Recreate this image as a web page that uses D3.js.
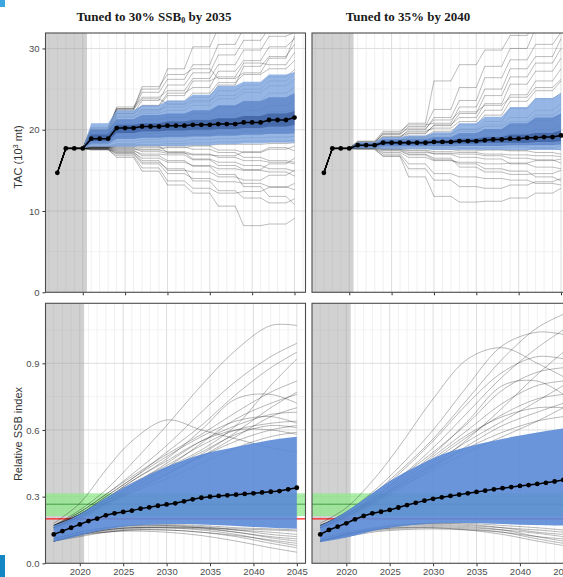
<!DOCTYPE html>
<html>
<head>
<meta charset="utf-8">
<script src="https://cdn.jsdelivr.net/npm/d3@7"></script>
<style>
  html, body { margin: 0; padding: 0; background: #fff; }
  svg { display: block; font-family: "Liberation Sans", Arial, sans-serif; }
</style>
</head>
<body>
<svg id="chart" width="563" height="577"></svg>
<script>
// ── Data ─────────────────────────────────────────────────────────────
const YEARS = d3.range(2017, 2046);
const TAC_HISTORY = [14.7, 17.7, 17.7, 17.7];            // 2017–2020, shared by every run
const TAC_BLOCK_STARTS = [2021, 2024, 2027, 2030, 2033, 2036, 2039, 2042, 2045];

// TAC medians, one per year 2017–2045
const tacLeftMedian = [14.7, 17.7, 17.7, 17.7, 18.9, 18.9, 18.9, 20.2, 20.2, 20.2,
  20.4, 20.4, 20.4, 20.5, 20.5, 20.5, 20.6, 20.6, 20.6, 20.7, 20.7, 20.7,
  20.9, 20.9, 20.9, 21.2, 21.2, 21.2, 21.5];
const tacRightMedian = [14.7, 17.7, 17.7, 17.7, 18.1, 18.1, 18.1, 18.4, 18.4, 18.4,
  18.4, 18.4, 18.4, 18.5, 18.5, 18.5, 18.6, 18.6, 18.6, 18.7, 18.8, 18.8,
  18.9, 18.9, 19.0, 19.0, 19.1, 19.1, 19.3];

// quantile bands per TAC block: [outer, middle, inner]
const tacLeftBandLo = [
  [17.9, 17.9, 18.0, 18.0, 18.1, 18.2, 18.3, 18.4, 18.4],
  [18.3, 18.9, 19.0, 19.1, 19.2, 19.3, 19.4, 19.5, 19.6],
  [18.6, 19.6, 19.8, 19.9, 20.0, 20.1, 20.2, 20.4, 20.6]];
const tacLeftBandHi = [
  [20.8, 22.4, 23.0, 23.6, 24.3, 25.4, 25.9, 26.8, 27.1],
  [20.0, 21.3, 21.8, 22.0, 22.4, 23.0, 23.5, 24.0, 24.5],
  [19.4, 20.6, 20.8, 21.0, 21.2, 21.4, 21.7, 22.0, 22.3]];
const tacRightBandLo = [
  [17.7, 17.6, 17.6, 17.5, 17.5, 17.5, 17.5, 17.5, 17.5],
  [17.9, 18.0, 18.0, 18.0, 18.0, 18.0, 18.1, 18.1, 18.2],
  [18.0, 18.2, 18.2, 18.3, 18.3, 18.4, 18.4, 18.5, 18.6]];
const tacRightBandHi = [
  [18.5, 19.1, 19.3, 19.7, 20.8, 21.6, 22.8, 23.9, 24.5],
  [18.3, 18.8, 18.9, 19.1, 19.6, 20.1, 20.8, 21.5, 22.0],
  [18.2, 18.6, 18.6, 18.7, 18.9, 19.1, 19.4, 19.6, 19.9]];

// individual TAC runs, one value per block
const tacLeftRuns = [
  [20.2, 22.6, 25.0, 27.5, 30.2, 32.5, 34, 35, 35],
  [20.0, 22.4, 24.6, 26.2, 28.0, 30.5, 32.5, 34, 34],
  [19.8, 22.0, 23.6, 25.5, 27.0, 29.2, 31.0, 32.5, 33],
  [20.1, 22.8, 24.0, 24.8, 26.3, 28.0, 29.8, 31.5, 32],
  [19.6, 21.8, 23.0, 24.5, 25.2, 27.2, 28.5, 30.2, 31.2],
  [20.3, 22.5, 23.8, 23.2, 24.0, 25.5, 27.8, 29.0, 30.5],
  [19.9, 22.2, 22.9, 24.2, 26.0, 26.5, 28.2, 28.0, 29.5],
  [20.0, 22.6, 25.3, 26.8, 27.5, 26.3, 27.0, 28.8, 31.5],
  [19.5, 21.5, 22.4, 23.5, 24.5, 25.8, 26.8, 27.5, 28.5],
  [19.8, 22.0, 22.5, 22.8, 23.4, 24.8, 25.5, 26.5, 27.4],
  [19.2, 20.8, 21.2, 21.5, 22.0, 22.8, 23.5, 24.5, 25.2],
  [19.0, 20.4, 20.6, 21.0, 21.3, 21.8, 22.4, 23.0, 23.6],
  [18.8, 20.2, 20.5, 20.8, 20.8, 21.2, 21.6, 22.2, 22.5],
  [18.9, 20.0, 20.3, 20.3, 20.6, 20.8, 21.0, 21.4, 21.8],
  [18.6, 19.6, 19.8, 20.0, 20.2, 20.4, 20.6, 20.8, 21.0],
  [18.5, 19.2, 19.5, 19.7, 19.9, 20.0, 20.2, 20.4, 20.5],
  [18.3, 18.9, 19.1, 19.3, 19.4, 19.6, 19.8, 20.0, 20.0],
  [18.2, 18.6, 18.8, 19.0, 19.2, 19.3, 19.4, 19.6, 19.5],
  [18.0, 18.3, 18.5, 18.6, 18.8, 18.9, 19.0, 19.1, 19.2],
  [17.9, 18.2, 18.2, 18.3, 18.4, 18.5, 18.6, 18.6, 18.7],
  [19.4, 21.2, 22.0, 22.4, 23.0, 23.8, 24.6, 25.4, 26.2],
  [19.6, 21.6, 22.2, 23.1, 23.6, 24.2, 25.0, 26.0, 27.0],
  [17.8, 18.0, 18.0, 18.1, 18.1, 18.2, 18.2, 18.3, 18.4],
  [17.7, 17.6, 17.5, 17.3, 17.0, 16.6, 16.2, 16.0, 15.8],
  [17.6, 17.2, 16.5, 16.0, 15.6, 15.2, 15.0, 14.8, 14.3],
  [17.6, 17.0, 15.8, 14.6, 14.0, 13.6, 13.4, 13.0, 12.6],
  [17.5, 16.8, 15.3, 13.7, 12.8, 12.2, 12.4, 12.9, 13.4],
  [17.6, 16.6, 14.9, 13.2, 12.2, 10.6, 8.2, 8.4, 9.1],
  [17.8, 17.5, 16.8, 16.2, 15.5, 14.5, 13.0, 11.8, 10.8],
  [17.7, 17.4, 17.0, 16.9, 16.3, 15.6, 15.1, 15.8, 16.5],
  [17.9, 17.8, 17.6, 17.8, 18.0, 17.5, 17.2, 17.6, 18.0],
  [17.8, 17.7, 17.3, 17.1, 16.9, 16.8, 17.3, 17.8, 17.4],
  [17.7, 17.3, 16.2, 15.0, 14.8, 14.2, 13.8, 14.4, 15.0],
  [17.6, 17.1, 16.0, 15.2, 13.7, 12.5, 11.6, 11.0, 11.5],
  [17.9, 18.1, 18.0, 17.2, 16.4, 16.0, 15.6, 15.2, 14.9],
  [17.8, 17.9, 17.8, 17.9, 17.6, 17.2, 16.6, 16.2, 16.0]];
const tacRightRuns = [
  [18.4, 19.6, 20.8, 26.0, 28.0, 29.8, 31.6, 33, 33],
  [18.5, 19.4, 20.4, 22.5, 25.2, 27.8, 30.0, 32.5, 33],
  [18.3, 19.0, 20.0, 21.5, 23.6, 26.4, 28.6, 30.5, 32],
  [18.6, 19.8, 20.6, 20.8, 22.8, 25.0, 27.5, 29.0, 31.2],
  [18.2, 18.8, 19.5, 20.6, 21.5, 23.2, 25.6, 27.2, 28.8],
  [18.4, 19.2, 19.8, 20.2, 21.0, 22.4, 24.3, 26.0, 27.5],
  [18.1, 18.7, 19.2, 19.8, 20.6, 21.8, 23.5, 24.8, 26.0],
  [18.0, 18.6, 19.0, 19.4, 20.1, 21.0, 22.6, 23.8, 24.5],
  [18.3, 19.1, 19.6, 20.5, 22.0, 24.2, 26.5, 28.2, 30.0],
  [18.5, 19.5, 20.2, 21.2, 22.2, 23.0, 24.0, 25.2, 26.2],
  [18.2, 18.5, 18.7, 18.9, 19.3, 19.8, 20.5, 21.2, 22.0],
  [18.1, 18.4, 18.5, 18.7, 18.9, 19.2, 19.6, 20.0, 20.5],
  [18.0, 18.3, 18.4, 18.5, 18.6, 18.8, 19.0, 19.3, 19.5],
  [17.9, 18.1, 18.2, 18.3, 18.3, 18.4, 18.5, 18.6, 18.8],
  [17.9, 18.0, 18.0, 18.1, 18.1, 18.1, 18.2, 18.2, 18.2],
  [18.2, 18.6, 19.0, 19.2, 19.8, 20.6, 21.5, 22.4, 23.2],
  [18.3, 18.8, 19.1, 19.5, 20.0, 20.4, 21.0, 21.8, 22.5],
  [18.0, 18.2, 18.3, 18.4, 18.5, 18.9, 19.3, 19.6, 19.9],
  [17.8, 17.7, 17.5, 17.3, 17.2, 17.0, 16.9, 16.8, 16.7],
  [17.7, 17.2, 16.6, 16.2, 16.0, 15.8, 15.9, 16.2, 16.4],
  [17.6, 16.8, 15.2, 13.8, 13.0, 12.8, 13.2, 13.6, 14.0],
  [17.6, 16.7, 14.2, 11.8, 11.1, 11.2, 11.6, 12.2, 12.8],
  [17.7, 17.0, 15.8, 14.6, 14.2, 14.0, 13.8, 13.4, 13.2],
  [17.8, 17.5, 17.0, 16.5, 15.4, 14.8, 14.5, 14.6, 15.0],
  [17.8, 17.6, 17.4, 17.0, 16.6, 16.4, 15.8, 15.4, 15.2],
  [17.9, 17.8, 17.7, 17.6, 17.4, 17.5, 17.4, 17.2, 17.0],
  [17.7, 17.4, 16.9, 16.3, 15.8, 15.2, 14.9, 14.2, 13.7],
  [17.8, 17.6, 17.2, 17.1, 17.0, 16.8, 16.5, 16.3, 15.9],
  [17.9, 17.9, 17.9, 17.8, 17.7, 17.8, 17.9, 17.7, 17.5],
  [18.0, 18.0, 18.1, 18.0, 17.8, 17.6, 17.5, 17.8, 18.0]];

// SSB medians, one per year 2017–2045
const ssbLeftMedian = [0.130, 0.145, 0.160, 0.175, 0.190, 0.201, 0.216, 0.225, 0.231,
  0.237, 0.246, 0.252, 0.259, 0.265, 0.270, 0.279, 0.288, 0.295, 0.300, 0.303,
  0.306, 0.309, 0.312, 0.315, 0.319, 0.322, 0.325, 0.333, 0.340];
const ssbRightMedian = [0.130, 0.150, 0.165, 0.180, 0.198, 0.213, 0.225, 0.232, 0.240,
  0.251, 0.262, 0.272, 0.282, 0.290, 0.297, 0.303, 0.309, 0.315, 0.321, 0.327,
  0.333, 0.338, 0.343, 0.348, 0.352, 0.357, 0.362, 0.368, 0.375];

const SSB_BAND_YEARS = [2017, 2019, 2021, 2023, 2025, 2028, 2031, 2034, 2037, 2040, 2043, 2045];
const ssbLeftBandHi = [0.17, 0.20, 0.245, 0.295, 0.34, 0.40, 0.45, 0.49, 0.515, 0.54, 0.56, 0.57];
const ssbLeftBandLo = [0.097, 0.115, 0.135, 0.152, 0.165, 0.174, 0.177, 0.175, 0.17, 0.163, 0.158, 0.156];
const ssbRightBandHi = [0.17, 0.21, 0.26, 0.315, 0.37, 0.435, 0.49, 0.525, 0.552, 0.575, 0.595, 0.607];
const ssbRightBandLo = [0.095, 0.108, 0.125, 0.145, 0.16, 0.174, 0.18, 0.181, 0.178, 0.174, 0.171, 0.17];

const SSB_RUN_YEARS = [2017, 2020, 2023, 2026, 2030, 2034, 2038, 2042, 2045];
const ssbLeftRuns = [
  [0.18, 0.27, 0.42, 0.55, 0.645, 0.60, 0.56, 0.52, 0.50],
  [0.17, 0.24, 0.33, 0.45, 0.62, 0.80, 0.96, 1.07, 1.07],
  [0.17, 0.23, 0.31, 0.40, 0.53, 0.68, 0.82, 0.93, 0.99],
  [0.16, 0.22, 0.30, 0.38, 0.50, 0.62, 0.76, 0.88, 0.95],
  [0.17, 0.23, 0.31, 0.39, 0.49, 0.58, 0.68, 0.77, 0.82],
  [0.16, 0.22, 0.29, 0.37, 0.47, 0.60, 0.74, 0.76, 0.72],
  [0.17, 0.22, 0.30, 0.38, 0.48, 0.57, 0.64, 0.66, 0.63],
  [0.16, 0.21, 0.28, 0.35, 0.45, 0.55, 0.62, 0.67, 0.68],
  [0.17, 0.22, 0.29, 0.36, 0.44, 0.53, 0.60, 0.63, 0.64],
  [0.16, 0.21, 0.28, 0.34, 0.42, 0.50, 0.58, 0.62, 0.61],
  [0.16, 0.21, 0.27, 0.34, 0.43, 0.54, 0.65, 0.72, 0.76],
  [0.17, 0.22, 0.29, 0.37, 0.46, 0.55, 0.60, 0.60, 0.58],
  [0.16, 0.20, 0.27, 0.33, 0.41, 0.48, 0.55, 0.60, 0.62],
  [0.16, 0.21, 0.27, 0.33, 0.40, 0.48, 0.57, 0.66, 0.70],
  [0.15, 0.20, 0.26, 0.32, 0.40, 0.49, 0.59, 0.70, 0.77],
  [0.17, 0.22, 0.28, 0.35, 0.43, 0.51, 0.62, 0.80, 0.92],
  [0.16, 0.21, 0.27, 0.32, 0.38, 0.45, 0.52, 0.57, 0.59],
  [0.11, 0.14, 0.16, 0.17, 0.17, 0.16, 0.14, 0.12, 0.11],
  [0.10, 0.13, 0.15, 0.16, 0.16, 0.15, 0.13, 0.10, 0.08],
  [0.10, 0.13, 0.15, 0.16, 0.165, 0.16, 0.15, 0.14, 0.13],
  [0.10, 0.13, 0.14, 0.15, 0.15, 0.14, 0.12, 0.09, 0.07],
  [0.11, 0.14, 0.16, 0.17, 0.175, 0.17, 0.16, 0.155, 0.15],
  [0.10, 0.125, 0.14, 0.145, 0.14, 0.125, 0.10, 0.07, 0.05],
  [0.10, 0.13, 0.15, 0.16, 0.16, 0.155, 0.14, 0.115, 0.10],
  [0.11, 0.14, 0.155, 0.165, 0.17, 0.165, 0.15, 0.13, 0.12],
  [0.10, 0.12, 0.14, 0.15, 0.15, 0.14, 0.125, 0.105, 0.09],
  [0.10, 0.13, 0.145, 0.155, 0.16, 0.16, 0.155, 0.15, 0.145]];
const ssbRightRuns = [
  [0.18, 0.25, 0.37, 0.52, 0.74, 0.92, 0.97, 0.90, 0.84],
  [0.17, 0.23, 0.32, 0.43, 0.60, 0.80, 0.98, 1.04, 1.03],
  [0.17, 0.23, 0.31, 0.41, 0.56, 0.74, 0.92, 1.06, 1.12],
  [0.17, 0.22, 0.30, 0.40, 0.55, 0.72, 0.86, 0.93, 0.92],
  [0.16, 0.22, 0.29, 0.38, 0.52, 0.68, 0.84, 0.97, 1.05],
  [0.17, 0.22, 0.29, 0.38, 0.50, 0.63, 0.78, 0.86, 0.88],
  [0.16, 0.21, 0.28, 0.36, 0.48, 0.60, 0.72, 0.80, 0.82],
  [0.17, 0.22, 0.29, 0.37, 0.49, 0.64, 0.80, 0.82, 0.76],
  [0.16, 0.21, 0.27, 0.35, 0.46, 0.57, 0.67, 0.74, 0.76],
  [0.16, 0.21, 0.28, 0.36, 0.47, 0.58, 0.66, 0.70, 0.70],
  [0.17, 0.22, 0.28, 0.35, 0.45, 0.55, 0.64, 0.73, 0.80],
  [0.16, 0.20, 0.26, 0.33, 0.43, 0.53, 0.62, 0.68, 0.72],
  [0.16, 0.21, 0.27, 0.34, 0.44, 0.56, 0.70, 0.85, 0.95],
  [0.17, 0.22, 0.28, 0.35, 0.44, 0.52, 0.59, 0.64, 0.66],
  [0.16, 0.21, 0.27, 0.34, 0.42, 0.50, 0.57, 0.64, 0.70],
  [0.10, 0.13, 0.155, 0.17, 0.18, 0.175, 0.16, 0.14, 0.13],
  [0.10, 0.13, 0.15, 0.165, 0.17, 0.165, 0.15, 0.12, 0.10],
  [0.10, 0.125, 0.145, 0.155, 0.16, 0.155, 0.14, 0.11, 0.09],
  [0.11, 0.14, 0.16, 0.175, 0.18, 0.18, 0.17, 0.16, 0.15],
  [0.10, 0.13, 0.15, 0.16, 0.165, 0.16, 0.15, 0.135, 0.12],
  [0.10, 0.12, 0.14, 0.15, 0.155, 0.15, 0.14, 0.12, 0.11],
  [0.11, 0.135, 0.155, 0.17, 0.175, 0.17, 0.16, 0.15, 0.14],
  [0.10, 0.13, 0.15, 0.16, 0.16, 0.15, 0.13, 0.10, 0.08]];

// reference levels on the SSB panels
const SSB_LIMIT = 0.2;
const SSB_TARGET = 0.266;
const SSB_TARGET_RANGE = [0.213, 0.315];

const X_TICKS = [2020, 2025, 2030, 2035, 2040, 2045];
const TAC_TICKS = [0, 10, 20, 30];
const TAC_MINOR = [5, 15, 25];
const SSB_TICKS = [0, 0.3, 0.6, 0.9];
const SSB_MINOR = [0.15, 0.45, 0.75, 1.05];

// ── Layout ───────────────────────────────────────────────────────────
const svg = d3.select('#chart');
const COL_LEFT = [45.5, 312];
const PANEL_W = 260;
const ROW_Y = [[33, 292.3], [303.3, 563.3]];

svg.append('rect').attr('width', 563).attr('height', 577).attr('fill', '#fff');

// ── Helpers ──────────────────────────────────────────────────────────
function tacSeries(blocks) {
  return YEARS.map((yr, i) => {
    if (yr <= 2020) return TAC_HISTORY[i];
    return blocks[d3.bisectRight(TAC_BLOCK_STARTS, yr) - 1];
  });
}

function drawPanel({ col, row, xDomain, yDomain, yMajor, yMinor, yLabels, xLabels, yFormat }) {
  const left = COL_LEFT[col];
  const [top, bottom] = ROW_Y[row];
  const x = d3.scaleLinear().domain(xDomain).range([left, left + PANEL_W]);
  const y = d3.scaleLinear().domain(yDomain).range([bottom, top]);

  const clipId = `clip-${col}-${row}`;
  svg.append('clipPath').attr('id', clipId).append('rect')
    .attr('x', left).attr('y', top).attr('width', PANEL_W).attr('height', bottom - top);
  const g = svg.append('g').attr('clip-path', `url(#${clipId})`);

  // grid
  const yearLines = d3.range(Math.ceil(xDomain[0]), Math.floor(xDomain[1]) + 1);
  g.append('g').selectAll('line').data(yearLines).join('line')
    .attr('x1', d => x(d)).attr('x2', d => x(d))
    .attr('y1', top).attr('y2', bottom)
    .attr('stroke', d => d % 5 === 0 ? '#d9d9d9' : '#e6e6e6')
    .attr('stroke-width', d => d % 5 === 0 ? 0.9 : 0.6);
  g.append('g').selectAll('line').data(yMinor).join('line')
    .attr('x1', left).attr('x2', left + PANEL_W)
    .attr('y1', d => y(d)).attr('y2', d => y(d))
    .attr('stroke', '#ececec').attr('stroke-width', 0.6);
  g.append('g').selectAll('line').data(yMajor).join('line')
    .attr('x1', left).attr('x2', left + PANEL_W)
    .attr('y1', d => y(d)).attr('y2', d => y(d))
    .attr('stroke', '#d9d9d9').attr('stroke-width', 0.9);

  // historical period shading
  g.append('rect')
    .attr('x', left).attr('y', top)
    .attr('width', x(2020.5) - left).attr('height', bottom - top)
    .attr('fill', '#9a9a9a').attr('opacity', 0.45);

  // axes
  const xAxis = svg.append('g').attr('transform', `translate(0,${bottom})`)
    .call(d3.axisBottom(x).tickValues(X_TICKS).tickSize(3).tickPadding(2)
      .tickFormat(xLabels ? d3.format('d') : ''));
  xAxis.select('.domain').remove();
  xAxis.selectAll('line').attr('stroke', '#333');
  xAxis.selectAll('text').attr('fill', '#4d4d4d').attr('font-size', 9.5)
    .attr('font-family', '"Liberation Sans", Arial, sans-serif');

  if (yLabels) {
    const yAxis = svg.append('g').attr('transform', `translate(${left},0)`)
      .call(d3.axisLeft(y).tickValues(yMajor).tickSize(3).tickPadding(3).tickFormat(yFormat));
    yAxis.select('.domain').remove();
    yAxis.selectAll('line').attr('stroke', '#333');
    yAxis.selectAll('text').attr('fill', '#4d4d4d').attr('font-size', 9.5)
      .attr('font-family', '"Liberation Sans", Arial, sans-serif');
  }

  return { x, y, g, left, top, bottom };
}

function drawBorder(p) {
  svg.append('rect')
    .attr('x', p.left).attr('y', p.top)
    .attr('width', PANEL_W).attr('height', p.bottom - p.top)
    .attr('fill', 'none').attr('stroke', '#4d4d4d').attr('stroke-width', 1.1);
}

function drawMedian(p, values) {
  const pts = YEARS.map((yr, i) => [yr, values[i]]);
  p.g.append('path').datum(pts)
    .attr('d', d3.line().x(d => p.x(d[0])).y(d => p.y(d[1])))
    .attr('fill', 'none').attr('stroke', '#000').attr('stroke-width', 1.5);
  p.g.append('g').selectAll('circle').data(pts).join('circle')
    .attr('cx', d => p.x(d[0])).attr('cy', d => p.y(d[1]))
    .attr('r', 2.4).attr('fill', '#000');
}

// ── TAC panels ───────────────────────────────────────────────────────
const BAND_FILLS = [['#79a1df', 0.78], ['#4d78c0', 0.62], ['#2a4c8c', 0.55]];

function drawTacPanel(col, runs, bandLo, bandHi, median) {
  const p = drawPanel({
    col, row: 0, xDomain: [2015.6, 2046.3], yDomain: [0, 31.9],
    yMajor: TAC_TICKS, yMinor: TAC_MINOR, yLabels: col === 0, xLabels: false,
    yFormat: d3.format('d')
  });
  const line = d3.line().x(d => p.x(d[0])).y(d => p.y(d[1]));

  p.g.append('g').selectAll('path').data(runs).join('path')
    .attr('d', r => line(tacSeries(r).map((v, i) => [YEARS[i], v])))
    .attr('fill', 'none').attr('stroke', '#000')
    .attr('stroke-opacity', 0.38).attr('stroke-width', 0.7);

  const bandYears = YEARS.filter(yr => yr >= 2020);
  const area = d3.area().x(d => p.x(d.yr)).y0(d => p.y(d.lo)).y1(d => p.y(d.hi));
  bandLo.forEach((lo, k) => {
    const loS = tacSeries(lo), hiS = tacSeries(bandHi[k]);
    const pts = bandYears.map(yr => {
      const i = YEARS.indexOf(yr);
      return { yr, lo: loS[i], hi: hiS[i] };
    });
    p.g.append('path').datum(pts).attr('d', area)
      .attr('fill', BAND_FILLS[k][0]).attr('opacity', BAND_FILLS[k][1]);
  });

  drawMedian(p, median);
  drawBorder(p);
}

// ── SSB panels ───────────────────────────────────────────────────────
function drawSsbPanel(col, runs, bandLo, bandHi, median) {
  const p = drawPanel({
    col, row: 1, xDomain: [2016.05, 2046.0], yDomain: [0, 1.17],
    yMajor: SSB_TICKS, yMinor: SSB_MINOR, yLabels: col === 0, xLabels: true,
    yFormat: d3.format('.1f')
  });
  const x0 = p.left, x1 = p.left + PANEL_W;

  p.g.append('rect')
    .attr('x', x0).attr('width', PANEL_W)
    .attr('y', p.y(SSB_TARGET_RANGE[1]))
    .attr('height', p.y(SSB_TARGET_RANGE[0]) - p.y(SSB_TARGET_RANGE[1]))
    .attr('fill', '#8fe88a').attr('opacity', 0.75);
  p.g.append('line')
    .attr('x1', x0).attr('x2', x1)
    .attr('y1', p.y(SSB_TARGET)).attr('y2', p.y(SSB_TARGET))
    .attr('stroke', '#45a045').attr('stroke-width', 1);
  p.g.append('line')
    .attr('x1', x0).attr('x2', x1)
    .attr('y1', p.y(SSB_LIMIT)).attr('y2', p.y(SSB_LIMIT))
    .attr('stroke', '#ff1a1a').attr('stroke-width', 1.3);

  const curve = d3.line().curve(d3.curveCatmullRom.alpha(0.5))
    .x(d => p.x(d[0])).y(d => p.y(d[1]));
  p.g.append('g').selectAll('path').data(runs).join('path')
    .attr('d', r => curve(r.map((v, i) => [SSB_RUN_YEARS[i], v])))
    .attr('fill', 'none').attr('stroke', '#000')
    .attr('stroke-opacity', 0.4).attr('stroke-width', 0.7);

  const pts = SSB_BAND_YEARS.map((yr, i) => ({ yr, lo: bandLo[i], hi: bandHi[i] }));
  p.g.append('path').datum(pts)
    .attr('d', d3.area().curve(d3.curveMonotoneX)
      .x(d => p.x(d.yr)).y0(d => p.y(d.lo)).y1(d => p.y(d.hi)))
    .attr('fill', '#5a8ad6').attr('opacity', 0.9);

  drawMedian(p, median);
  drawBorder(p);
}

drawTacPanel(0, tacLeftRuns, tacLeftBandLo, tacLeftBandHi, tacLeftMedian);
drawTacPanel(1, tacRightRuns, tacRightBandLo, tacRightBandHi, tacRightMedian);
drawSsbPanel(0, ssbLeftRuns, ssbLeftBandLo, ssbLeftBandHi, ssbLeftMedian);
drawSsbPanel(1, ssbRightRuns, ssbRightBandLo, ssbRightBandHi, ssbRightMedian);

// ── Titles and axis labels ───────────────────────────────────────────
const t1 = svg.append('text').attr('x', 154).attr('y', 21).attr('text-anchor', 'middle')
  .attr('font-family', '"Liberation Serif", "Times New Roman", serif')
  .attr('font-weight', 'bold').attr('font-size', 13).attr('fill', '#1a1a1a');
t1.append('tspan').text('Tuned to 30% SSB');
t1.append('tspan').attr('dy', 2).attr('font-size', 8).text('0');
t1.append('tspan').attr('dy', -2).text(' by 2035');

svg.append('text').attr('x', 408).attr('y', 21).attr('text-anchor', 'middle')
  .attr('font-family', '"Liberation Serif", "Times New Roman", serif')
  .attr('font-weight', 'bold').attr('font-size', 13).attr('fill', '#1a1a1a')
  .text('Tuned to 35% by 2040');

const tacLabel = svg.append('text')
  .attr('transform', 'translate(22,157) rotate(-90)').attr('text-anchor', 'middle')
  .attr('font-size', 11).attr('fill', '#333');
tacLabel.append('tspan').text('TAC (10');
tacLabel.append('tspan').attr('dy', -4).attr('font-size', 7.5).text('3');
tacLabel.append('tspan').attr('dy', 4).text(' mt)');

svg.append('text')
  .attr('transform', 'translate(22,434) rotate(-90)').attr('text-anchor', 'middle')
  .attr('font-size', 11).attr('fill', '#333')
  .text('Relative SSB index');

// page-edge marks present in the source image
svg.append('rect').attr('x', 0).attr('y', 0).attr('width', 5).attr('height', 7).attr('fill', '#3da5e0');
svg.append('rect').attr('x', 0).attr('y', 555).attr('width', 5).attr('height', 22).attr('fill', '#1486c4');
</script>
</body>
</html>
